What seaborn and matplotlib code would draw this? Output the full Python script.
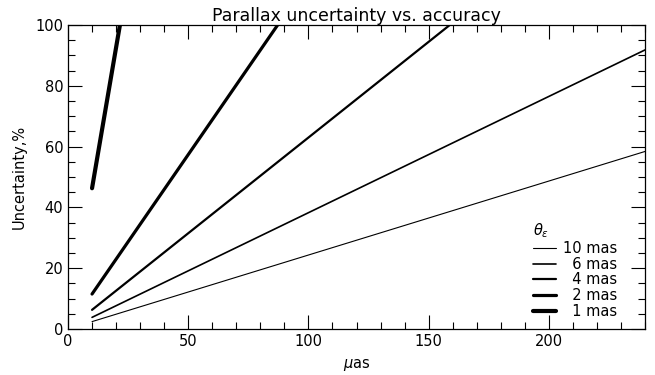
import matplotlib
matplotlib.use("Agg")
import matplotlib.pyplot as plt
import seaborn as sns
import pandas as pd
from matplotlib.ticker import MultipleLocator

sns.set_style("ticks")
plt.rcParams['font.family'] = ['DejaVu Sans']
plt.rcParams['text.color'] = 'black'
plt.rcParams['axes.labelcolor'] = 'black'
plt.rcParams['xtick.color'] = 'black'
plt.rcParams['ytick.color'] = 'black'

# Data (endpoints of straight lines)
labels = ["10 mas", "\u20076 mas", "\u20074 mas", "\u20072 mas", "\u20071 mas"]
x_start = [10, 10, 10, 10, 10]
x_end = [240, 240, 158.8, 87.2, 21.6]
y_start = [2.43, 3.83, 6.3, 11.5, 46.3]
y_end = [58.4, 91.8, 100, 100, 100]
widths = [0.8, 1.2, 1.6, 2.3, 3.0]

rows = []
for lab, xs, xe, ys, ye in zip(labels, x_start, x_end, y_start, y_end):
    rows.append({"theta": lab, "x": xs, "y": ys})
    rows.append({"theta": lab, "x": xe, "y": ye})
df = pd.DataFrame(rows)

fig = plt.figure(figsize=(6.55, 3.75), dpi=100)
ax = fig.add_axes([68/655, 46/375, (645-68)/655, (329-25)/375])

for lab, lw in zip(labels, widths):
    sub = df[df["theta"] == lab]
    sns.lineplot(data=sub, x="x", y="y", ax=ax, color="black", linewidth=lw,
                 label=lab, estimator=None, sort=False)

ax.set_xlim(0, 240)
ax.set_ylim(0, 100)
ax.xaxis.set_major_locator(MultipleLocator(50))
ax.xaxis.set_minor_locator(MultipleLocator(10))
ax.yaxis.set_major_locator(MultipleLocator(20))
ax.yaxis.set_minor_locator(MultipleLocator(5))
ax.tick_params(which="both", direction="in", top=True, right=True,
               labeltop=False, labelright=False, colors="black", labelsize=10.5)
ax.tick_params(which="major", length=10, width=0.8)
ax.tick_params(which="minor", length=5, width=0.8)
for s in ax.spines.values():
    s.set_color("black")
    s.set_linewidth(0.9)

ax.set_title("Parallax uncertainty vs. accuracy", fontsize=12.5, pad=3, color="black")
ax.set_xlabel(r"$\mu$as", fontsize=10.5, labelpad=6)
ax.set_ylabel("Uncertainty,%", fontsize=10.5, labelpad=6)

leg = ax.legend(title=r"$\theta_\epsilon$", frameon=False, loc="lower right",
                bbox_to_anchor=(0.97, 0.0), fontsize=10.5, title_fontsize=10.5,
                handlelength=1.6, handletextpad=0.5, labelspacing=0.05,
                borderaxespad=0.3)
leg._legend_box.align = "left"
for t in leg.get_texts():
    t.set_color("black")

fig.savefig("out.png", dpi=100)
